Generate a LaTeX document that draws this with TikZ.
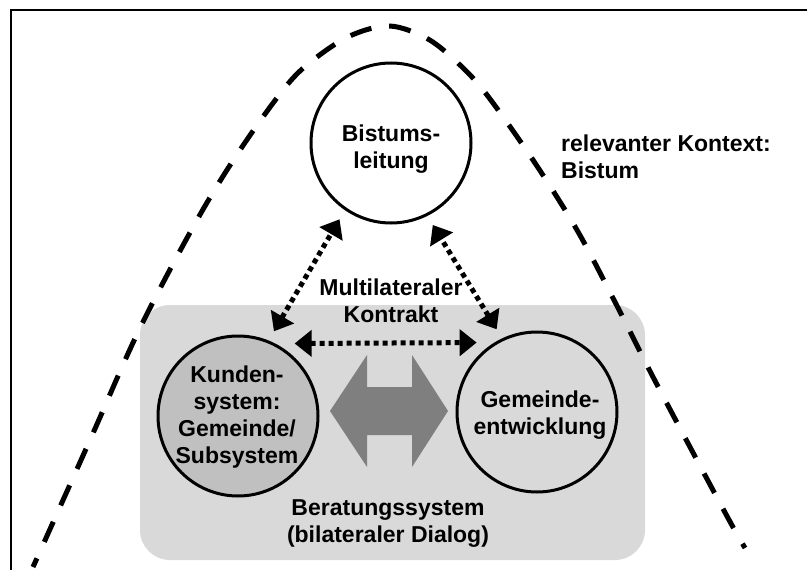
\documentclass[tikz,border=0pt]{standalone}
\usepackage{fontspec}
\setmainfont{Liberation Sans}
\usetikzlibrary{arrows.meta}
\definecolor{boxgray}{HTML}{D9D9D9}
\definecolor{kundgray}{HTML}{C0C0C0}
\definecolor{arrgray}{HTML}{7F7F7F}
\tikzset{
  ring/.style={circle, draw=black, line width=3pt, minimum size=160pt, inner sep=0pt, outer sep=12pt},
  txt/.style={align=center, inner sep=0pt, font=\fontsize{23}{27}\selectfont\bfseries},
  dotarrow/.style={line width=5pt, dash pattern=on 5pt off 4pt,
     {Triangle[length=17pt,width=26pt]}-{Triangle[length=17pt,width=26pt]}},
  context/.style={line width=5pt, dash pattern=on 22pt off 18pt, dash phase=17pt},
}
\begin{document}
\begin{tikzpicture}[x=1pt,y=-1pt]
\useasboundingbox (0,0) rectangle (807,570);
% frame
\draw[line width=2.5pt] (11,570) -- (11,10) -- (807,10);
% Beratungssystem box
\node[rectangle, rounded corners=30pt, fill=boxgray, minimum width=505pt, minimum height=255pt, inner sep=0pt] (berat) at (392.5,432.5) {};
% context curve (drawn right to left)
\draw[context] plot[smooth, tension=0.55] coordinates {
 (745,548) (728,518) (690,447) (652,375) (615,302) (577,230) (533,160) (487,95) (460,65) (428,39)
 (390,26) (352,35) (317,57) (287,85) (240,150) (197,220) (140,328) (90,440) (33,567)};
% circles
\node[ring] (bis) at (391,143) {};
\node[ring, fill=kundgray] (kund) at (238,416) {};
\node[ring] (gem) at (537,412) {};
% big double arrow
\fill[arrgray] (330,411) -- (367,355) -- (367,387) -- (412,387) -- (412,355) -- (448,411)
  -- (412,467) -- (412,435) -- (367,435) -- (367,467) -- cycle;
% dotted arrows
\draw[dotarrow] (kund.67.7) -- (bis.236.8);
\draw[dotarrow] (gem.116.6) -- (bis.297.1);
\draw[dotarrow] (kund.52) -- (gem.131.9);
% texts
\node[txt] (tbis) at (391,149.5) {Bistums-\\leitung};
\node[txt] (tmulti) at (391,301) {Multilateraler\\Kontrakt};
\node[txt, anchor=west, align=left] (tctx) at (561,156.6) {relevanter Kontext:\\Bistum};
\node[txt] (tkund) at (237,417.5) {Kunden-\\system:\\Gemeinde/\\Subsystem};
\node[txt] (tgem) at (540,415.5) {Gemeinde-\\entwicklung};
\node[txt] (tberat) at (388,524) {Beratungssystem\\(bilateraler Dialog)};
\end{tikzpicture}
\end{document}
